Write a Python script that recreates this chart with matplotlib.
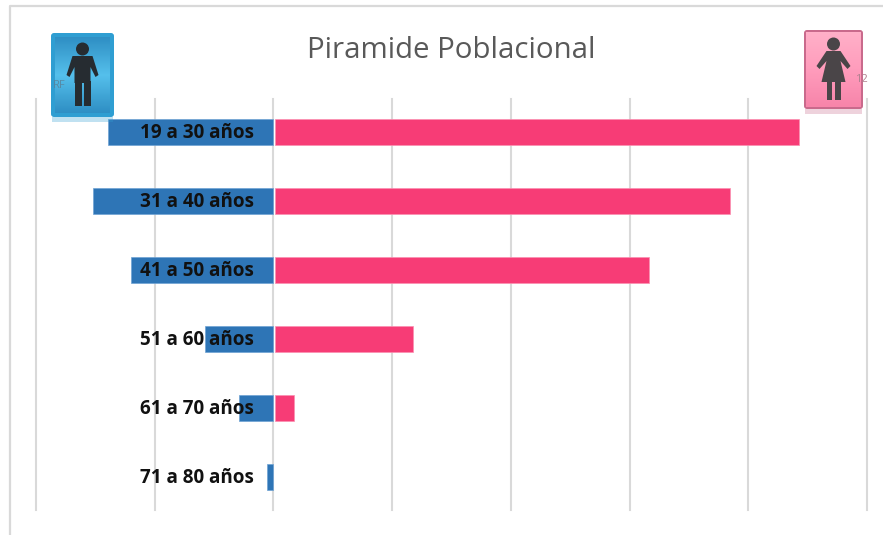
import numpy as np
import matplotlib
matplotlib.use('Agg')
import matplotlib.pyplot as plt
from matplotlib.colors import LinearSegmentedColormap
from matplotlib.patches import Circle, FancyBboxPatch, Polygon, Rectangle

W, H = 883, 535

edades = ['19 a 30 años', '31 a 40 años', '41 a 50 años', '51 a 60 años', '61 a 70 años', '71 a 80 años']
hombres = [13.9, 15.2, 12.0, 5.8, 2.9, 0.5]
mujeres = [44.1, 38.3, 31.5, 11.6, 1.6, 0.0]
ticks = [-20, -10, 0, 10, 20, 30, 40, 50]

AZUL = '#2E75B6'
ROSA = '#F73C76'
GRIS = '#D9D9D9'
OSCURO = '#262C31'


def icono(ax, x0, y0, x1, y1, borde, colores, figura, mujer=False, grosor=4):
    # reflejo debajo del icono
    ax.add_patch(Rectangle((x0 + 1, y1), x1 - x0 - 2, 5, fc=borde, ec='none', alpha=0.3, zorder=4))
    ax.add_patch(FancyBboxPatch((x0 + 2, y0 + 2), x1 - x0 - 4, y1 - y0 - 4, boxstyle='round,pad=2,rounding_size=3',
                                fc=borde, ec='none', zorder=5))
    cmap = LinearSegmentedColormap.from_list('fondo', colores)
    grad = np.linspace(0, 1, 64).reshape(-1, 1)
    ax.imshow(grad, extent=(x0 + grosor, x1 - grosor, y1 - grosor, y0 + grosor), cmap=cmap, aspect='auto', zorder=6)
    cx = (x0 + x1) / 2
    if mujer:
        ax.add_patch(Circle((cx, y0 + 14), 6.5, fc=figura, ec='none', zorder=7))
        ax.add_patch(Polygon([(cx - 7, y0 + 21), (cx + 7, y0 + 21), (cx + 17, y0 + 36), (cx + 14, y0 + 39),
                              (cx + 7, y0 + 31), (cx + 12, y0 + 52), (cx - 12, y0 + 52), (cx - 7, y0 + 31),
                              (cx - 14, y0 + 39), (cx - 17, y0 + 36)], fc=figura, ec='none', zorder=7))
        ax.add_patch(Rectangle((cx - 7, y0 + 50), 5.5, 20, fc=figura, ec='none', zorder=7))
        ax.add_patch(Rectangle((cx + 1.5, y0 + 50), 5.5, 20, fc=figura, ec='none', zorder=7))
    else:
        ax.add_patch(Circle((cx, y0 + 16), 6.5, fc=figura, ec='none', zorder=7))
        ax.add_patch(Polygon([(cx - 10, y0 + 23), (cx + 10, y0 + 23), (cx + 16, y0 + 42), (cx + 13, y0 + 44),
                              (cx + 8, y0 + 34), (cx + 8, y0 + 50), (cx - 8, y0 + 50), (cx - 8, y0 + 34),
                              (cx - 13, y0 + 44), (cx - 16, y0 + 42)], fc=figura, ec='none', zorder=7))
        ax.add_patch(Rectangle((cx - 8, y0 + 48), 7, 25, fc=figura, ec='none', zorder=7))
        ax.add_patch(Rectangle((cx + 1, y0 + 48), 7, 25, fc=figura, ec='none', zorder=7))


fig = plt.figure(figsize=(W / 100, H / 100), dpi=100, facecolor='white')

# ejes del grafico, colocados en pixeles
ax = fig.add_axes([36 / W, 1 - 510 / H, (867 - 36) / W, (510 - 99) / H])
y = np.arange(len(edades))
ax.barh(y, [-v for v in hombres], height=0.39, color=AZUL, edgecolor='#6FA3D3', linewidth=0.5, zorder=2)
ax.barh(y[:-1], mujeres[:-1], height=0.39, left=0.13, color=ROSA, edgecolor='#FB8FB0', linewidth=0.5, zorder=2)
ax.set_xlim(-20, 50)
ax.set_ylim(5.478, -0.478)
ax.set_xticks(ticks)
ax.set_yticks([])
ax.tick_params(length=0, labelbottom=False)
ax.grid(axis='x', color=GRIS, linewidth=1.5, zorder=1, clip_on=False)
ax.set_axisbelow(True)
for s in ax.spines.values():
    s.set_visible(False)
for i, e in enumerate(edades):
    ax.text(-1.65, i + 0.015, e, ha='right', va='center', fontsize=13.6, fontweight='bold', family='Open Sans',
            color='#111111', zorder=3)

# capa superior: marco, titulo e iconos
top = fig.add_axes([0, 0, 1, 1], facecolor='none')
top.set_xlim(0, W)
top.set_ylim(H, 0)
top.axis('off')
top.plot([9.5, 9.5, W], [H, 6, 6], color=GRIS, linewidth=1.6, zorder=1)
top.text(451, 50, 'Piramide Poblacional', ha='center', va='center', fontsize=21.2, family='Open Sans', color='#595959')

icono(top, 51, 33, 114, 117, '#2F9ED2', ['#2F8FC4', '#55C0EC', '#2F8FC4'], OSCURO)
top.text(53, 86, 'RF', fontsize=8, color='#5A7F95', alpha=0.8, va='center', zorder=6.5, family='Open Sans')
icono(top, 804, 30, 863, 109, '#C96A8C', ['#FFB0C8', '#FF9CBC', '#F785AA'], '#4A4548', mujer=True, grosor=2)
marca = top.text(855, 80, '12', fontsize=8, color='#B0808F', va='center', zorder=6.5, family='Open Sans')
marca.set_clip_path(Rectangle((804, 30), 58, 79, transform=top.transData))

fig.savefig('out.png', dpi=100)
